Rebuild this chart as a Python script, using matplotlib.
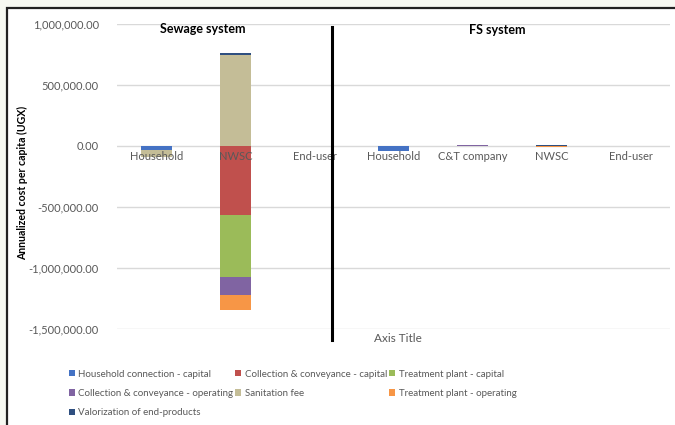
import matplotlib.pyplot as plt
import numpy as np
from matplotlib.patches import Rectangle
from matplotlib.ticker import FuncFormatter

plt.rcParams['font.family'] = ['Lato', 'DejaVu Sans']

categories = ['Household', 'NWSC', 'End-user', 'Household', 'C&T company', 'NWSC', 'End-user']

# annualized cost per capita (UGX), one value per category
household_connection_capital = [-35000, 0, 0, -37000, 0, 0, 0]
collection_conveyance_capital = [0, -568000, 0, 0, 0, 0, 0]
treatment_plant_capital = [0, -506000, 0, 0, 0, 0, 0]
collection_conveyance_operating = [0, -145000, 0, 0, 8000, 0, 0]
sanitation_fee = [-57000, 745000, 0, 0, 0, 0, 0]
treatment_plant_operating = [0, -128000, 0, 0, 0, -8000, 0]
valorization = [0, 17000, 0, 0, 0, 8000, 0]

series = [
    ('Household connection - capital', household_connection_capital, '#4472c4'),
    ('Collection & conveyance - capital', collection_conveyance_capital, '#c0504d'),
    ('Treatment plant - capital', treatment_plant_capital, '#9bbb59'),
    ('Collection & conveyance - operating', collection_conveyance_operating, '#8064a2'),
    ('Sanitation fee', sanitation_fee, '#c4bd97'),
    ('Treatment plant - operating', treatment_plant_operating, '#f79646'),
    ('Valorization of end-products', valorization, '#2f4f80'),
]

fig = plt.figure(figsize=(6.75, 4.25), dpi=100)
fig.patch.set_facecolor('#f7f9f2')
fig.patches.append(Rectangle((7 / 675, -0.05), 1.0, 1 - 8 / 425 + 0.05,
                             transform=fig.transFigure, facecolor='white',
                             edgecolor='#222222', linewidth=1.6, zorder=-10))

ax = fig.add_axes([117 / 675, 1 - 329 / 425, 553 / 675, 305 / 425])
ax.set_facecolor('none')

x = np.arange(len(categories))
pos_base = np.zeros(len(categories))
neg_base = np.zeros(len(categories))
handles = {}
for name, vals, color in series:
    vals = np.array(vals, dtype=float)
    bottoms = np.where(vals >= 0, pos_base, neg_base)
    bars = ax.bar(x, vals, 0.39, bottom=bottoms, color=color, label=name, zorder=3)
    handles[name] = bars
    pos_base += np.where(vals > 0, vals, 0)
    neg_base += np.where(vals < 0, vals, 0)

ax.set_xlim(-0.5, len(categories) - 0.5)
ax.set_ylim(-1500000, 1000000)
ax.set_yticks(np.arange(-1500000, 1000001, 500000))
ax.yaxis.set_major_formatter(FuncFormatter(lambda v, p: f'{v:,.2f}'))
ax.tick_params(axis='y', length=0, labelsize=8, labelcolor='#595959', pad=13)
ax.set_xticks([])
ax.grid(axis='y', color='#d9d9d9', linewidth=1, zorder=0)
for s in ax.spines.values():
    s.set_visible(False)

# category labels sit just under the zero line
for xi, lab in zip(x, categories):
    ax.text(xi, -40000, lab, ha='center', va='top', fontsize=8, color='#595959', zorder=4)

fig.text(23 / 675, 1 - 183 / 425, 'Annualized cost per capita (UGX)', rotation=90,
         ha='center', va='center', fontsize=7.6, fontweight='bold', color='black')
fig.text(398 / 675, 1 - 338 / 425, 'Axis Title', ha='center', va='center',
         fontsize=8.5, color='#595959')

fig.text(203 / 675, 1 - 29 / 425, 'Sewage system', ha='center', va='center',
         fontsize=9, fontweight='bold')
fig.text(497 / 675, 1 - 30 / 425, 'FS system', ha='center', va='center',
         fontsize=9, fontweight='bold')

# divider between the two systems
fig.add_artist(plt.Line2D([332 / 675, 332 / 675], [1 - 27 / 425, 1 - 340 / 425],
                          color='black', linewidth=2.2, zorder=5))

order = ['Household connection - capital', 'Collection & conveyance - operating',
         'Valorization of end-products', 'Collection & conveyance - capital',
         'Sanitation fee', 'Treatment plant - capital', 'Treatment plant - operating']
fig.legend([handles[n] for n in order], order, ncol=3, loc='upper left',
           bbox_to_anchor=(60 / 675, 1 - 361 / 425), frameon=False,
           prop={'size': 7},
           handlelength=0.6, handleheight=0.6, handletextpad=0.4,
           columnspacing=0.2, labelspacing=1.05, labelcolor='#595959')

fig.savefig('out.png', dpi=100, facecolor=fig.get_facecolor())
